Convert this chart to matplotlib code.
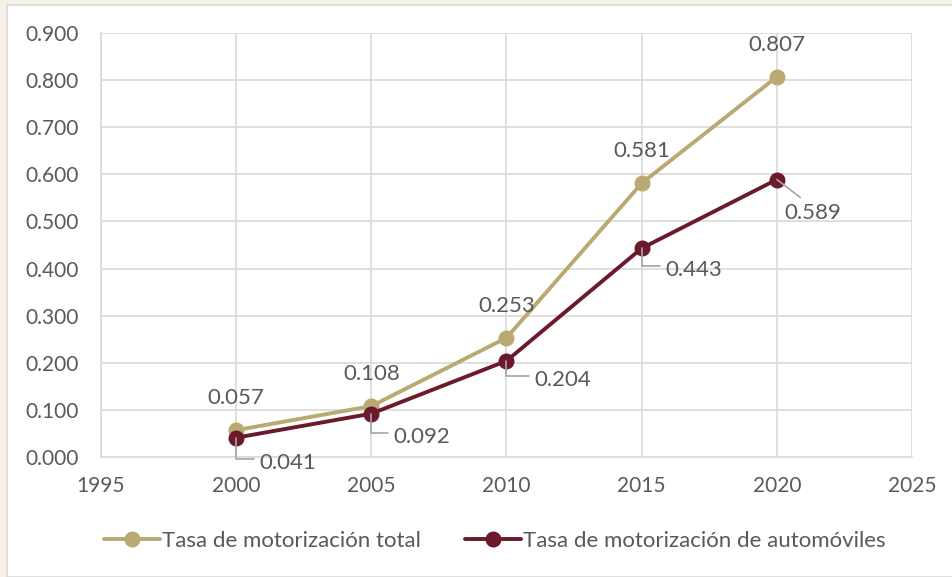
import matplotlib
matplotlib.use("Agg")
import matplotlib.pyplot as plt
from matplotlib.patches import Rectangle

# Series data
years = [2000, 2005, 2010, 2015, 2020]
tasa_total = [0.057, 0.108, 0.253, 0.581, 0.807]
tasa_auto = [0.041, 0.092, 0.204, 0.443, 0.589]
series_names = ["Tasa de motorización total", "Tasa de motorización de automóviles"]
x_ticks = [1995, 2000, 2005, 2010, 2015, 2020, 2025]
y_ticks = [0.0, 0.1, 0.2, 0.3, 0.4, 0.5, 0.6, 0.7, 0.8, 0.9]

GOLD = "#B8AA70"
MAROON = "#6B1A2C"
TEXT = "#595959"
GRID = "#D9D9D9"
FONT = ["Lato", "DejaVu Sans"]
FS_TICK = 15
FS_LABEL = 16
FS_LEGEND = 16

plt.rcParams["font.family"] = FONT

fig = plt.figure(figsize=(9.52, 5.77), dpi=100)
fig.patch.set_facecolor("#F5F1E6")
# white chart panel
fig.patches.append(Rectangle((7 / 952, 0), 1, 1 - 5 / 577, transform=fig.transFigure,
                             facecolor="white", edgecolor="#D9D9D9", linewidth=1.2,
                             zorder=-5))

ax = fig.add_axes([101 / 952, 1 - 457 / 577, (912 - 101) / 952, (457 - 33) / 577])
ax.set_facecolor("white")
ax.set_xlim(1995, 2025)
ax.set_ylim(0, 0.9)
ax.set_xticks(x_ticks)
ax.set_yticks(y_ticks)
ax.set_yticklabels([f"{v:.3f}" for v in y_ticks])
ax.grid(True, color=GRID, linewidth=1.2)
ax.set_axisbelow(True)
for s in ["top", "right"]:
    ax.spines[s].set_visible(False)
for s in ["left", "bottom"]:
    ax.spines[s].set_color(GRID)
    ax.spines[s].set_linewidth(1.2)
ax.tick_params(axis="both", length=0, labelsize=FS_TICK, labelcolor=TEXT)
ax.tick_params(axis="y", pad=16)
ax.tick_params(axis="x", pad=14)

l1, = ax.plot(years, tasa_total, color=GOLD, lw=2.8, marker="o", ms=10.5,
              solid_capstyle="round", zorder=3, label=series_names[0])
l2, = ax.plot(years, tasa_auto, color=MAROON, lw=2.8, marker="o", ms=10.5,
              solid_capstyle="round", zorder=4, label=series_names[1])

# labels for the total series, above each point
for x, v in zip(years, tasa_total):
    ax.annotate(f"{v:.3f}", (x, v), xytext=(0, 23), textcoords="offset points",
                ha="center", va="center", fontsize=FS_LABEL, color=TEXT)

# labels for automobiles, below right with leader lines
auto_offsets = [(37, -18), (36.5, -16.5), (40.5, -13.7), (37.8, -15.8)]
for x, v, off in zip(years[:-1], tasa_auto[:-1], auto_offsets):
    ax.annotate(f"{v:.3f}", (x, v), xytext=off, textcoords="offset points",
                ha="center", va="center", fontsize=FS_LABEL, color=TEXT, zorder=5,
                arrowprops=dict(arrowstyle="-", color="#A6A6A6", lw=1.2,
                                connectionstyle="angle,angleA=0,angleB=90,rad=0",
                                relpos=(0, 0.7), shrinkA=2, shrinkB=0))
ax.annotate(f"{tasa_auto[-1]:.3f}", (years[-1], tasa_auto[-1]), xytext=(26, -24),
            textcoords="offset points", ha="center", va="center", fontsize=FS_LABEL,
            color=TEXT, zorder=5,
            arrowprops=dict(arrowstyle="-", color="#A6A6A6", lw=1.2,
                            relpos=(0.4, 1.0), shrinkA=3, shrinkB=0))

fig.legend(handles=[l1, l2], loc="center", bbox_to_anchor=(0.52, 1 - 541 / 577),
           ncol=2, frameon=False, fontsize=FS_LEGEND, labelcolor=TEXT,
           handlelength=2.5, handletextpad=0.1, columnspacing=2.0)

fig.savefig("out.png", dpi=100, facecolor=fig.get_facecolor())
